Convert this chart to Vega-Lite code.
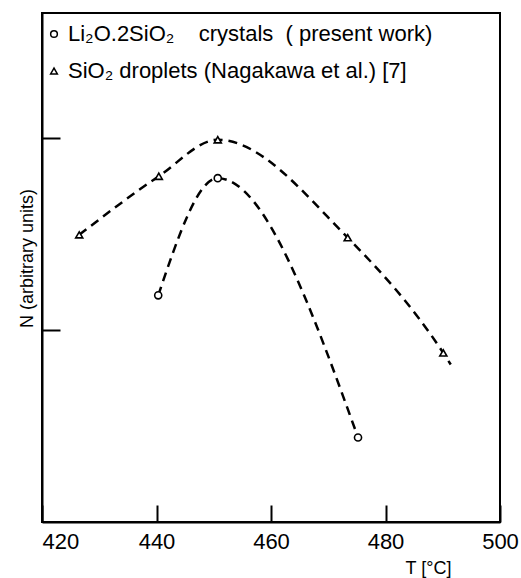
{
  "$schema": "https://vega.github.io/schema/vega-lite/v6.json",
  "width": 458,
  "height": 509,
  "autosize": "none",
  "padding": {"left": 42, "top": 13, "right": 21, "bottom": 56},
  "background": "white",
  "config": {
    "font": "Liberation Sans",
    "view": {"stroke": "black", "strokeWidth": 2}
  },
  "data": {
    "values": [
      {"series": "Li₂O.2SiO₂\u00a0\u00a0\u00a0\u00a0crystals\u00a0\u00a0(\u00a0present work)", "T": 440.3, "N": 1.18, "marker": true},
      {"series": "Li₂O.2SiO₂\u00a0\u00a0\u00a0\u00a0crystals\u00a0\u00a0(\u00a0present work)", "T": 450.7, "N": 1.79, "marker": true},
      {"series": "Li₂O.2SiO₂\u00a0\u00a0\u00a0\u00a0crystals\u00a0\u00a0(\u00a0present work)", "T": 475.2, "N": 0.44, "marker": true},
      {"series": "SiO₂ droplets (Nagakawa et al.) [7]", "T": 426.5, "N": 1.495, "marker": true},
      {"series": "SiO₂ droplets (Nagakawa et al.) [7]", "T": 440.4, "N": 1.8, "marker": true},
      {"series": "SiO₂ droplets (Nagakawa et al.) [7]", "T": 450.7, "N": 1.99, "marker": true},
      {"series": "SiO₂ droplets (Nagakawa et al.) [7]", "T": 473.4, "N": 1.48, "marker": true},
      {"series": "SiO₂ droplets (Nagakawa et al.) [7]", "T": 490.1, "N": 0.88, "marker": true},
      {"series": "SiO₂ droplets (Nagakawa et al.) [7]", "T": 491.4, "N": 0.82, "marker": false}
    ]
  },
  "encoding": {
    "x": {
      "field": "T",
      "type": "quantitative",
      "scale": {"domain": [420, 500], "nice": false, "zero": false},
      "axis": {
        "values": [420, 440, 460, 480, 500],
        "grid": false,
        "domainColor": "black",
        "domainWidth": 2,
        "tickColor": "black",
        "tickWidth": 2,
        "tickSize": -17,
        "labelFlush": false,
        "labelAlign": {"expr": "datum.value == 420 ? 'left' : 'center'"},
        "labelFontSize": 22,
        "labelColor": "black",
        "labelPadding": 26,
        "title": "T [°C]",
        "titleFontSize": 18,
        "titleFontWeight": "normal",
        "titleColor": "black",
        "titleX": 386,
        "titleY": 46,
        "titleBaseline": "middle"
      }
    },
    "y": {
      "field": "N",
      "type": "quantitative",
      "scale": {"domain": [0, 2.65], "nice": false},
      "axis": {
        "values": [1, 2],
        "grid": false,
        "labels": false,
        "domainColor": "black",
        "domainWidth": 2,
        "tickColor": "black",
        "tickWidth": 2,
        "tickSize": -18,
        "title": "N (arbitrary units)",
        "titleFontSize": 18,
        "titleFontWeight": "normal",
        "titleColor": "black",
        "titleX": -6,
        "titleY": 245,
        "titleAngle": -90,
        "titleBaseline": "bottom"
      }
    }
  },
  "layer": [
    {
      "mark": {
        "type": "line",
        "interpolate": "monotone",
        "strokeDash": [9, 6],
        "strokeWidth": 2.5,
        "color": "black"
      },
      "encoding": {"detail": {"field": "series"}}
    },
    {
      "transform": [{"filter": "datum.marker"}],
      "mark": {
        "type": "point",
        "fill": "white",
        "stroke": "black",
        "strokeWidth": 1.6,
        "opacity": 1,
        "size": 50
      },
      "encoding": {
        "shape": {
          "field": "series",
          "type": "nominal",
          "scale": {
            "domain": ["Li₂O.2SiO₂\u00a0\u00a0\u00a0\u00a0crystals\u00a0\u00a0(\u00a0present work)", "SiO₂ droplets (Nagakawa et al.) [7]"],
            "range": ["circle", "triangle-up"]
          },
          "legend": {
            "title": null,
            "orient": "none",
            "legendX": 1,
            "legendY": 10,
            "padding": 0,
            "labelFontSize": 22,
            "labelLimit": 0,
            "labelColor": "black",
            "labelOffset": 3,
            "rowPadding": 15,
            "symbolSize": 45,
            "encode": {
              "symbols": {
                "update": {
                  "fill": {"value": "white"},
                  "stroke": {"value": "black"},
                  "strokeWidth": {"value": 1.6},
                  "opacity": {"value": 1}
                }
              }
            }
          }
        }
      }
    }
  ]
}
